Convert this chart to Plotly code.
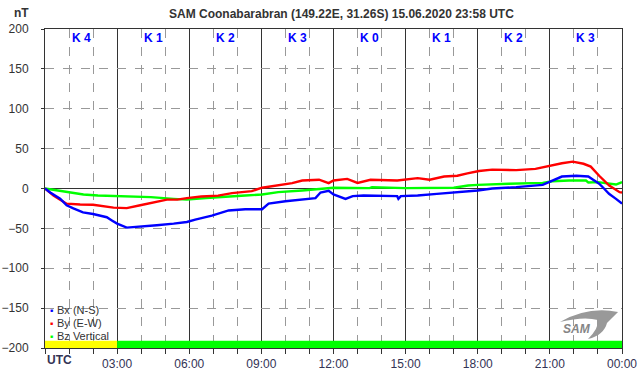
import plotly.graph_objects as go

# ---- data ----
bx_hours = [0, 0.2, 0.63, 0.9, 1.18, 1.58, 2.0, 2.57, 2.78, 3.0, 3.4, 3.96, 4.65, 5.35, 5.9, 6.25,
            6.94, 7.64, 8.33, 9.03, 9.3, 10.0, 10.7, 11.25, 11.46, 11.8, 12.0, 12.1, 12.5, 12.8,
            13.25, 14.65, 14.7, 14.8, 15.5, 16.3, 17.15, 18.0, 18.6, 19.6, 20.7, 21.1, 21.5, 22.1,
            22.6, 22.8, 23.05, 23.25, 23.46, 23.75, 24]
bx_values = [0, -4.6, -12.7, -21, -25, -30, -32, -36, -40, -44, -49, -48, -46, -44, -42, -39,
             -34, -27.5, -26, -26, -19, -16, -14, -12, -5, -3, -7.5, -8.7, -13, -9.6,
             -8.7, -9.6, -13, -9.6, -8.7, -6.7, -4.6, -2.5, 0, 1.7, 4.6, 10, 15, 16,
             15, 11, 6, 0, -6.7, -13, -19]

by_hours = [0, 0.35, 0.63, 0.9, 1.46, 2.0, 2.85, 3.4, 3.96, 4.65, 5.07, 5.5, 5.9, 6.5, 7.2, 7.78,
            8.6, 9.03, 9.58, 10.28, 10.7, 11.4, 11.8, 12.0, 12.57, 13.0, 13.54, 14.65, 15.5, 16.0,
            16.6, 17.15, 17.57, 18.05, 18.6, 19.6, 20.4, 21.0, 21.5, 21.95, 22.4, 22.7, 23.05,
            23.47, 23.9, 24]
by_values = [0, -8.7, -14, -19, -20, -20.4, -24, -24.6, -21, -17, -14, -14, -12, -10, -9, -5.8,
             -3.3, 1, 3.8, 6.7, 10, 11, 6.7, 10, 12, 7, 11, 10, 13, 11,
             15, 16, 19, 22, 23.7, 23, 24.6, 28.7, 31.7, 33.7, 31, 27.5, 16,
             3.7, -4.6, -5]

bz_hours = [0, 0.49, 0.9, 1.6, 2.2, 3.26, 4.4, 5.35, 5.9, 6.7, 7.5, 8.33, 9.03, 9.7, 10.7, 12.0,
            13.5, 13.6, 15.0, 16.0, 17.0, 17.6, 18.0, 19.3, 20.7, 21.1, 21.8, 22.5, 22.6, 23.0,
            23.5, 23.75, 24]
bz_values = [0, -2.5, -4.6, -7.5, -8.7, -9.6, -10.8, -13, -14, -12, -10, -8.7, -7.5, -4.6, -2.5, 1,
             0.5, 1.5, 0.5, 0.5, 1, 3.7, 4.6, 6, 7, 9, 10, 10, 7.5, 8,
             6, 5, 8]

k_index = [4, 1, 2, 3, 0, 1, 2, 3]
k_centers = [1.5, 4.5, 7.5, 10.5, 13.5, 16.5, 19.5, 22.5]

tick_hours = [0, 3, 6, 9, 12, 15, 18, 21, 24]
tick_labels = ["", "03:00", "06:00", "09:00", "12:00", "15:00", "18:00", "21:00", "00:00"]
axis_zone_label = "UTC"

status_start = [0, 3]
status_end = [3, 24]
status_colors = ["#ffff00", "#00ff00"]

series_names = ["Bx (N-S)", "By (E-W)", "Bz Vertical"]
series_colors = ["#0000ff", "#ff0000", "#00ff00"]

title_text = "SAM Coonabarabran (149.22E, 31.26S) 15.06.2020 23:58 UTC"

# ---- geometry helpers ----
W, H = 642, 376
L, R, T, B = 45, 20, 29, 28
PW, PH = W - L - R, H - T - B


def px(x):
    return (x - L) / PW


def py(y):
    return (H - B - y) / PH


FONT = "Liberation Sans, Arial, sans-serif"

fig = go.Figure()
for hrs, vals, col in [(bx_hours, bx_values, series_colors[0]),
                       (by_hours, by_values, series_colors[1]),
                       (bz_hours, bz_values, series_colors[2])][::-1]:
    fig.add_trace(go.Scatter(x=hrs, y=vals, mode="lines",
                             line=dict(color=col, width=2.4), showlegend=False,
                             hoverinfo="skip"))

shapes = []
for s, e, c in zip(status_start, status_end, status_colors):
    shapes.append(dict(type="rect", xref="x", yref="y", x0=s, x1=e, y0=-200, y1=-191,
                       fillcolor=c, line=dict(width=0), layer="above"))

# SAM logo swoosh
pts = [(560, 322), (588, 306), (618, 312), (612, 318), (607, 323), (604, 335), (588, 339),
       (599, 328), (598, 320), (584, 316), (560, 322)]
path = "M {:.4f} {:.4f} Q {:.4f} {:.4f} {:.4f} {:.4f} Q {:.4f} {:.4f} {:.4f} {:.4f} Q {:.4f} {:.4f} {:.4f} {:.4f} Q {:.4f} {:.4f} {:.4f} {:.4f} Q {:.4f} {:.4f} {:.4f} {:.4f} Z".format(
    *[v for p in pts for v in (px(p[0]), py(p[1]))])
shapes.append(dict(type="path", xref="paper", yref="paper", path=path,
                   fillcolor="#999999", line=dict(width=0), layer="above"))

annotations = []
for k, c in zip(k_index, k_centers):
    annotations.append(dict(x=c, xref="x", y=py(38), yref="paper", text=f"<b>K {k}</b>",
                            showarrow=False, font=dict(family=FONT, size=12, color="#0000ff"),
                            xanchor="center", yanchor="middle"))

legend_y = [310, 323, 336]
for name, col, yy in zip(series_names, series_colors, legend_y):
    annotations.append(dict(x=px(51), y=py(yy), xref="paper", yref="paper", text="■",
                            showarrow=False, font=dict(family=FONT, size=5, color=col),
                            xanchor="center", yanchor="middle"))
    annotations.append(dict(x=px(55), y=py(yy), xref="paper", yref="paper", text=name,
                            showarrow=False, font=dict(family=FONT, size=11, color="#333333"),
                            xanchor="left", yanchor="middle"))

annotations.append(dict(x=px(45), y=py(360), xref="paper", yref="paper",
                        text=f"<b>{axis_zone_label}</b>",
                        showarrow=False, font=dict(family=FONT, size=12, color="#333355"),
                        xanchor="left", yanchor="middle"))
annotations.append(dict(x=px(21), y=py(13), xref="paper", yref="paper", text="<b>nT</b>",
                        showarrow=False, font=dict(family=FONT, size=12, color="#333333"),
                        xanchor="center", yanchor="middle"))
annotations.append(dict(x=px(341), y=py(14), xref="paper", yref="paper", text=f"<b>{title_text}</b>",
                        showarrow=False, font=dict(family=FONT, size=12, color="#333333"),
                        xanchor="center", yanchor="middle"))
annotations.append(dict(x=px(577), y=py(329), xref="paper", yref="paper", text="<i><b>SAM</b></i>",
                        showarrow=False, font=dict(family=FONT, size=12, color="#858585"),
                        xanchor="center", yanchor="middle"))

fig.update_layout(
    width=W, height=H,
    margin=dict(l=L, r=R, t=T, b=B, pad=0),
    paper_bgcolor="white", plot_bgcolor="white",
    shapes=shapes, annotations=annotations,
    showlegend=False,
    font=dict(family=FONT, size=12, color="#333333"),
    xaxis=dict(range=[0, 24], tickvals=tick_hours, ticktext=tick_labels,
               automargin=False,
               showgrid=True, gridcolor="#333333", gridwidth=1,
               zeroline=False, showline=True, linecolor="#333333", linewidth=1, mirror=True,
               ticks="outside", ticklen=5, tickcolor="#333333",
               tickfont=dict(family=FONT, size=12, color="#333355"),
               minor=dict(dtick=1, showgrid=True, gridcolor="#999999", griddash="dash",
                          gridwidth=1, ticks="outside", ticklen=5, tickcolor="#333333"),
               fixedrange=True),
    yaxis=dict(range=[-200, 200], dtick=50, tick0=0,
               automargin=False,
               showgrid=True, gridcolor="#999999", griddash="dash", gridwidth=1,
               zeroline=True, zerolinecolor="#333333", zerolinewidth=1,
               showline=True, linecolor="#333333", linewidth=1, mirror=True,
               ticks="outside", ticklen=3, tickcolor="#333333",
               ticklabelstandoff=10,
               tickfont=dict(family=FONT, size=12, color="#333333"),
               fixedrange=True),
)

fig.write_html("out.html", config={"displayModeBar": False},
               post_script="document.body.style.margin='0';")
